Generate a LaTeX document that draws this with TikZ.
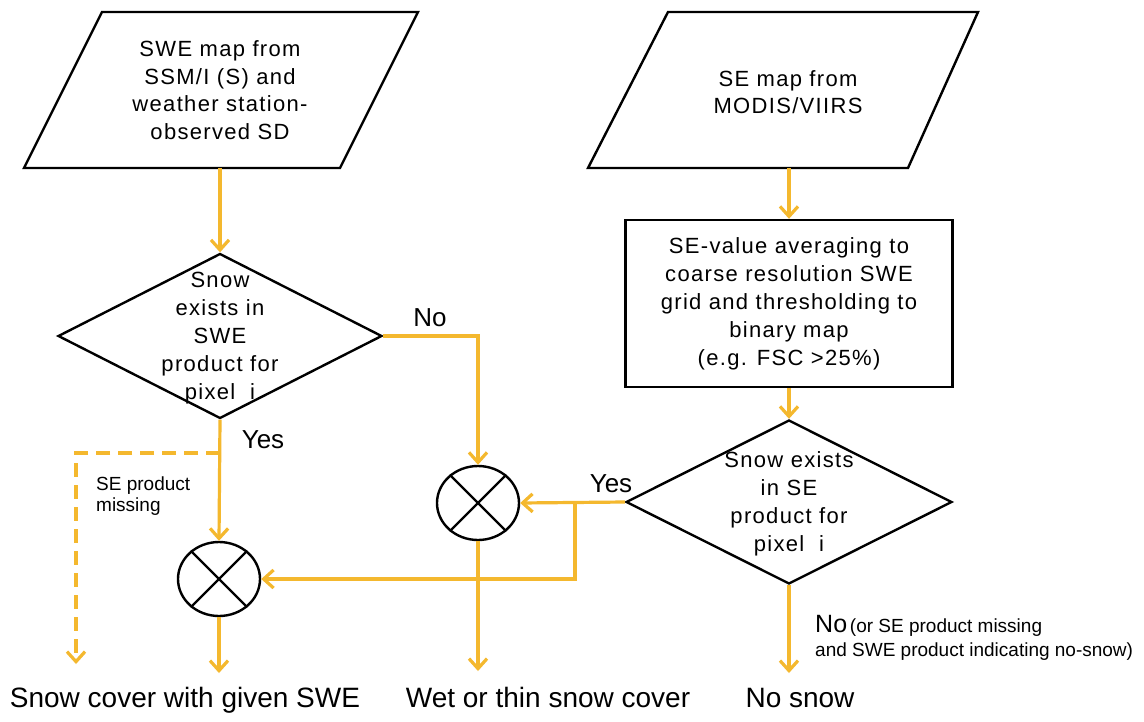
\documentclass[tikz,border=0pt]{standalone}
\usepackage{fontspec}
\setmainfont{Liberation Sans}
\usetikzlibrary{arrows.meta,shapes.geometric,calc}
\definecolor{flow}{RGB}{244,184,46}
\newcommand{\fsz}[2]{\fontsize{#1}{#2}\selectfont}
\tikzset{
  shapeline/.style={draw=black,line width=2.4pt,line join=miter},
  conn/.style={draw=flow,line width=3.2pt,line join=miter},
  arr/.style={conn,-{Straight Barb[length=10pt,width=18pt,line width=3.2pt]}},
  dasharr/.style={arr,dash pattern=on 14pt off 8pt},
  maintext/.style={align=center,font=\fsz{22}{27.5}\addfontfeature{LetterSpace=6},text=black,inner sep=0pt},
  decision/.style={diamond,shapeline,inner sep=0pt},
  procbox/.style={rectangle,shapeline,minimum width=327pt,minimum height=167pt,align=center,font=\fsz{22}{28}\addfontfeature{LetterSpace=6},text=black},
  joint/.style={ellipse,shapeline,minimum width=82pt,minimum height=74pt,inner sep=0pt},
  outtext/.style={font=\fsz{28}{32},text=black,inner sep=0pt},
  yesno/.style={font=\fsz{26}{30},text=black,inner sep=0pt},
  smalltext/.style={font=\fsz{19}{21},text=black,inner sep=0pt},
}
\begin{document}
\begin{tikzpicture}[x=1pt,y=-1pt]
\useasboundingbox (0,0) rectangle (1144,721);
\fill[white] (0,0) rectangle (1144,721);

% input parallelograms
\draw[shapeline] (102,12) -- (418,12) -- (340,168) -- (24,168) -- cycle;
\coordinate (p1b) at (220,168);
\node[maintext] (p1) at (220,90) {SWE map from\\SSM/I (S) and\\weather station-\\observed SD};

\draw[shapeline] (668,12) -- (978,12) -- (908,168) -- (588,168) -- cycle;
\coordinate (p2b) at (789,168);
\node[maintext] (p2) at (788,92) {SE map from\\MODIS/VIIRS};

% process box
\node[procbox] (box) at (789,303.5) {SE-value averaging to\\coarse resolution SWE\\grid and thresholding to\\binary map\\(e.g. FSC {>}25\%)};

% decisions
\node[decision,minimum width=324pt,minimum height=165pt] (d1) at (220,336) {};
\node[maintext,font=\fsz{22}{28}\addfontfeature{LetterSpace=6}] (d1t) at (220,338) {Snow\\exists in\\SWE\\product for\\pixel\ \ i};

\node[decision,minimum width=326pt,minimum height=164pt] (d2) at (789,502) {};
\node[maintext,font=\fsz{22}{28}\addfontfeature{LetterSpace=6}] (d2t) at (789,504) {Snow exists\\in SE\\product for\\pixel\ \ i};

% joints
\node[joint] (c1) at (219,579) {};
\draw[shapeline,line width=2.2pt] (c1.45) -- (c1.225) (c1.135) -- (c1.315);
\node[joint] (c2) at (478,503) {};
\draw[shapeline,line width=2.2pt] (c2.45) -- (c2.225) (c2.135) -- (c2.315);

% outputs
\node[outtext,anchor=base] (o1) at (185,707) {Snow cover with given SWE};
\node[outtext,anchor=base] (o2) at (548,707) {Wet or thin snow cover};
\node[outtext,anchor=base] (o3) at (800,707) {No snow};
\coordinate (o1t) at (219,673);
\coordinate (o2t) at (478,671);
\coordinate (o3t) at (789,673);
\coordinate (dend) at (76,664);

% connectors
\draw[arr] (p1b) -- (d1.north);
\draw[arr] (p2b) -- (box.north);
\draw[arr] (box.south) -- (d2.north);
\draw[arr] (d1.east) -| (c2.north);
\draw[arr] (d1.south) -- (c1.north);
\coordinate (dsplit) at (220,453);
\draw[dasharr] (dsplit) -| (dend);
\draw[arr] (d2.west) -- (c2.east);
\coordinate (br) at (575,503);
\draw[arr] (br) |- (c1.east);
\draw[arr] (c1.south) -- (o1t);
\draw[arr] (c2.south) -- (o2t);
\draw[arr] (d2.south) -- (o3t);

% labels
\node[yesno] (lno1) at (430,318) {No};
\node[yesno] (lyes1) at (263,440) {Yes};
\node[yesno] (lyes2) at (611,484) {Yes};
\node[smalltext,align=left,anchor=north west] (lmiss) at (96,477) {SE product\\missing};
\node[anchor=base west,inner sep=0pt,text=black] (lno2) at (815,632) {{\fsz{25}{30}No}\ {\fsz{19}{21}(or SE product missing}};
\node[smalltext,anchor=base west] (lno3) at (815,656) {and SWE product indicating no-snow)};
\end{tikzpicture}
\end{document}
